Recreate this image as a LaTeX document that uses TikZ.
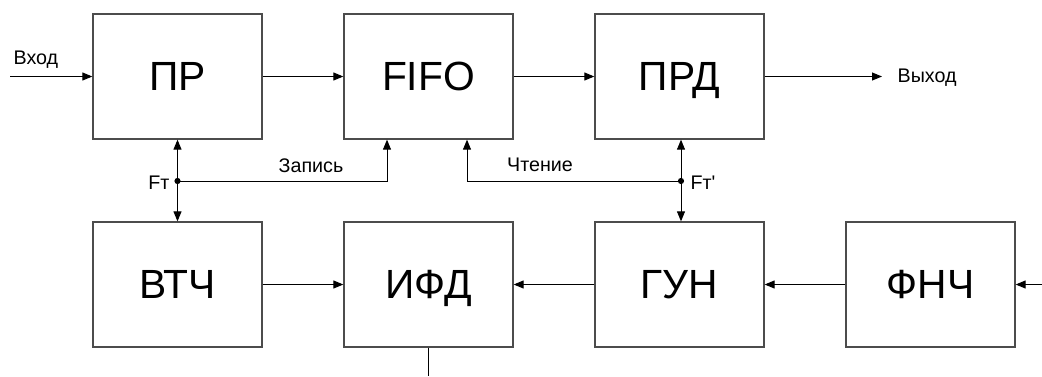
\documentclass[tikz,border=0pt]{standalone}
\usepackage{fontspec}
\setmainfont{Liberation Sans}
\usetikzlibrary{arrows.meta}

\tikzset{
  block/.style={draw=black!70, line width=0.9pt, minimum width=4.225cm,
    minimum height=3.125cm, inner sep=0pt, text height=20pt, text depth=0pt,
    font=\fontsize{29}{32}\selectfont},
  wire/.style={line width=0.7pt},
  sig/.style={wire, -{Triangle[length=0.25cm,width=0.2cm]}},
  lbl/.style={inner sep=1pt, font=\fontsize{14}{16}\selectfont},
}

\begin{document}
\begin{tikzpicture}[x=0.025cm, y=-0.025cm]
    \useasboundingbox (0,0) rectangle (1042,376);

    % Upper row
    \node[block] (pr) at (177.5,76.5) {ПР};
    \node[block] (fifo) at (428.5,76.5) {FIFO};
    \node[block] (prd) at (679.5,76.5) {ПРД};

    % Lower row
    \node[block] (vtch) at (177.5,284.5) {ВТЧ};
    \node[block] (ifd) at (428.5,284.5) {ИФД};
    \node[block] (gun) at (679.5,284.5) {ГУН};
    \node[block] (fnch) at (930.5,284.5) {ФНЧ};

    % Free ends and branch points
    \coordinate (in) at (10,76.5);
    \coordinate (out) at (882,76.5);
    \coordinate (ext) at (1042,284.5);
    \coordinate (down) at (428.5,376);
    \coordinate (ft) at (177.5,181);
    \coordinate (ftr) at (681,181);

    % Data path
    \draw[sig] (in) -- (pr);
    \draw[sig] (pr) -- (fifo);
    \draw[sig] (fifo) -- (prd);
    \draw[sig] (prd) -- (out);
    \node[lbl, anchor=south west] (vhod) at (12,70) {Вход};
    \node[lbl, anchor=west] (vyhod) at (896,78) {Выход};

    % PLL loop
    \draw[sig] (ext) -- (fnch);
    \draw[sig] (fnch) -- (gun);
    \draw[sig] (gun) -- (ifd);
    \draw[sig] (vtch) -- (ifd);
    \draw[wire] (ifd) -- (down);

    % Write clock
    \draw[sig] (ft) -- (pr);
    \draw[sig] (ft) -- (vtch);
    \draw[sig] (ft) -| ([xshift=-41.5*0.025cm]fifo.south);
    \fill (ft) circle (2.2pt);
    \node[lbl, anchor=east] (ftl) at (171,183) {Fт};
    \node[lbl] (zap) at (311,166) {Запись};

    % Read clock
    \draw[sig] (ftr) -- (prd.south -| ftr);
    \draw[sig] (ftr) -- (gun.north -| ftr);
    \draw[sig] (ftr) -| ([xshift=38.5*0.025cm]fifo.south);
    \fill (ftr) circle (2.2pt);
    \node[lbl, anchor=west] (ftrl) at (689,183) {Fт\textquotesingle};
    \node[lbl] (cht) at (540,165) {Чтение};
\end{tikzpicture}
\end{document}
